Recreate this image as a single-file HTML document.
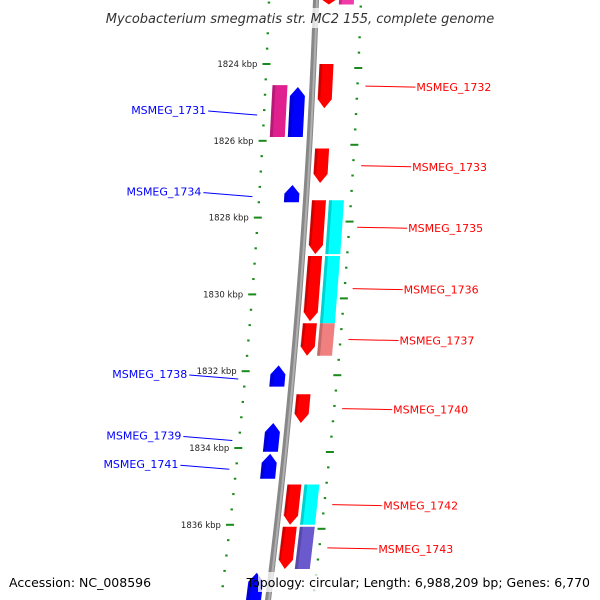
<!DOCTYPE html>
<html><head><meta charset="utf-8"><style>
body{margin:0;background:#fff}
svg{display:block;font-family:"DejaVu Sans","Liberation Sans",sans-serif}
</style></head><body>
<svg id="map" width="600" height="600" viewBox="0 0 600 600" xmlns="http://www.w3.org/2000/svg">
<defs>
<linearGradient id="bb" x1="0" x2="1"><stop offset="0" stop-color="#6e6e6e"/><stop offset="0.5" stop-color="#a8a8a8"/><stop offset="1" stop-color="#6e6e6e"/></linearGradient>
</defs>
<g id="dots"></g>
<g id="genes"></g>
<g id="labels"></g>
<rect x="90" y="8" width="420" height="20" fill="#fff" opacity="0.75"/>
<text x="300" y="23" text-anchor="middle" font-size="13" font-style="italic" fill="#333">Mycobacterium smegmatis str. MC2 155, complete genome</text>
<rect x="6" y="572" width="142" height="20" fill="#fff" opacity="0.75"/>
<rect x="258" y="572" width="336" height="20" fill="#fff" opacity="0.75"/>
<text x="9" y="587" font-size="12.5" fill="#000">Accession: NC_008596</text>
<text x="590" y="587" text-anchor="end" font-size="12.5" fill="#000">Topology: circular; Length: 6,988,209 bp; Genes: 6,770</text>
</svg>
<script>
const tickLabels = [1824, 1826, 1828, 1830, 1832, 1834, 1836];
const geneNames = ["","MSMEG_1732","MSMEG_1733","MSMEG_1735","MSMEG_1736","MSMEG_1737","MSMEG_1740","MSMEG_1742","MSMEG_1743","","","","","","","MSMEG_1731","MSMEG_1734","MSMEG_1738","MSMEG_1739","MSMEG_1741","","","MSMEG_1731"];
const geneStart = [1822.2,1824.0,1826.2,1827.55,1829.0,1830.75,1832.6,1834.95,1836.05, 1822.2,1827.55,1829.0,1830.75,1834.95,1836.05, 1824.6,1827.15,1831.85,1833.35,1834.15,1837.25, 1826.0,1824.55];
const geneEnd   = [1822.45,1825.15,1827.1,1828.95,1830.7,1831.6,1833.35,1836.0,1837.15, 1822.45,1828.95,1830.75,1831.6,1836.0,1837.15, 1825.9,1827.6,1832.4,1834.1,1834.8,1838.0, 1826.0,1825.9];
const geneRing  = [1,1,1,1,1,1,1,1,1, 2,2,2,2,2,2, -1,-1,-1,-1,-1,-1, 0,-2];
const geneColor = ["#f00","#f00","#f00","#f00","#f00","#f00","#f00","#f00","#f00","#f03aa8","#0ff","#0ff","#f08080","#0ff","#6a5acd","#00f","#00f","#00f","#00f","#00f","#00f","","#e0208f"];
const svg = document.getElementById('map');
const NS = 'http://www.w3.org/2000/svg';
function yOf(k){return 64 + (k-1824)*38.4;}
function xOf(y){return 316 - 0.035*y - 7.5e-5*y*y;}
function mk(t,a,p){const e=document.createElementNS(NS,t);for(const k in a)e.setAttribute(k,a[k]);p.appendChild(e);return e;}
// backbone
let d='';for(let y=-5;y<=605;y+=5){d+=(y==-5?'M':'L')+xOf(y).toFixed(2)+' '+y;}
const bb=mk('path',{d:d,stroke:'#888','stroke-width':6,fill:'none'},svg);


svg.insertBefore(bb,document.getElementById('genes'));
mk('path',{d:d,stroke:'#b0b0b0','stroke-width':2,fill:'none',transform:'translate(1,0)'},svg);
svg.insertBefore(svg.lastChild,document.getElementById('genes'));
// dots/ticks
const dots=document.getElementById('dots');
for(let k=1822.0;k<=1838.4;k+=0.4){
  const y=yOf(k); const major=Math.abs(Math.round(k/2)*2-k)<0.01;
  const xl=xOf(y)-47, xr=xOf(y+4)+45;
  const a=mk('rect',{x:(major?xl-4:xl-1.2),y:y-1,width:major?8:2.4,height:2,fill:'#1a8a1a'},dots);
  
  
  const b=mk('rect',{x:(major?xr-4:xr-1.2),y:y+3,width:major?8:2.4,height:2,fill:'#1a8a1a'},dots);
  
  
}
tickLabels.forEach(k=>{const y=yOf(k);
  const t=mk('text',{x:xOf(y)-56,y:y+3,'text-anchor':'end','font-size':8.5,fill:'#222'},dots);
  t.textContent=k+' kbp';
  
  
});
// genes
const genes=document.getElementById('genes'), labels=document.getElementById('labels');
const ringOff={1:[6,20],2:[23,38],'-1':[-22,-7],'-2':[-40,-25]};
geneStart.forEach((s,i)=>{
  const r=geneRing[i]; const y1=yOf(s), y2=yOf(geneEnd[i]);
  if(r!==0){
  const [o1,o2]=ringOff[r]; const arrow=(r===1||r===-1); const al=Math.min(9,(y2-y1)*0.5);
  let pts=[];
  if(r>0){ // forward: arrow points down
    const ye=arrow?y2-al:y2;
    pts=[[xOf(y1)+o1,y1],[xOf(y1)+o2,y1],[xOf(ye)+o2,ye]];
    if(arrow)pts.push([xOf(y2)+(o1+o2)/2,y2]);
    pts.push([xOf(ye)+o1,ye]);
  } else {
    const ys=arrow?y1+al:y1;
    pts=[[xOf(ys)+o1,ys]];
    if(arrow)pts.push([xOf(y1)+(o1+o2)/2,y1]);
    pts.push([xOf(ys)+o2,ys],[xOf(y2)+o2,y2],[xOf(y2)+o1,y2]);
  }
  const p=mk('polygon',{points:pts.map(q=>q[0].toFixed(1)+','+q[1].toFixed(1)).join(' '),fill:geneColor[i]},genes);
  
  
  // shading
  const sh=mk('polygon',{points:pts.map(q=>q[0].toFixed(1)+','+q[1].toFixed(1)).join(' '),fill:'#000',opacity:0.18,'clip-path':''},genes);
  sh.setAttribute('points',[[xOf(y1)+o1,y1+(r<0&&arrow?al:0)],[xOf(y1)+o1+3,y1+(r<0&&arrow?al:0)],[xOf(y2)+o1+3,y2-(r>0&&arrow?al:0)],[xOf(y2)+o1,y2-(r>0&&arrow?al:0)]].map(q=>q[0].toFixed(1)+','+q[1].toFixed(1)).join(' '));
  
  
  }
  const name=geneNames[i]; if(!name||r===-2)return;
  const ly=(y1+y2)/2+ (r>0?0:0); const xc=xOf(ly);
  if(r>0){
    const l=mk('line',{x1:xc+53,y1:ly,x2:xc+103,y2:ly+1,stroke:'#f00','stroke-width':1},labels);
    
    
    const t=mk('text',{x:xc+104,y:ly+5,'font-size':11,fill:'#f00'},labels);t.textContent=name;
    
    
  } else {
    const l=mk('line',{x1:xc-54,y1:ly+3,x2:xc-103,y2:ly-1,stroke:'#00f','stroke-width':1},labels);
    
    
    const t=mk('text',{x:xc-105,y:ly+2,'text-anchor':'end','font-size':11,fill:'#00f'},labels);t.textContent=name;
    
    
  }
});
</script>
</body></html>
